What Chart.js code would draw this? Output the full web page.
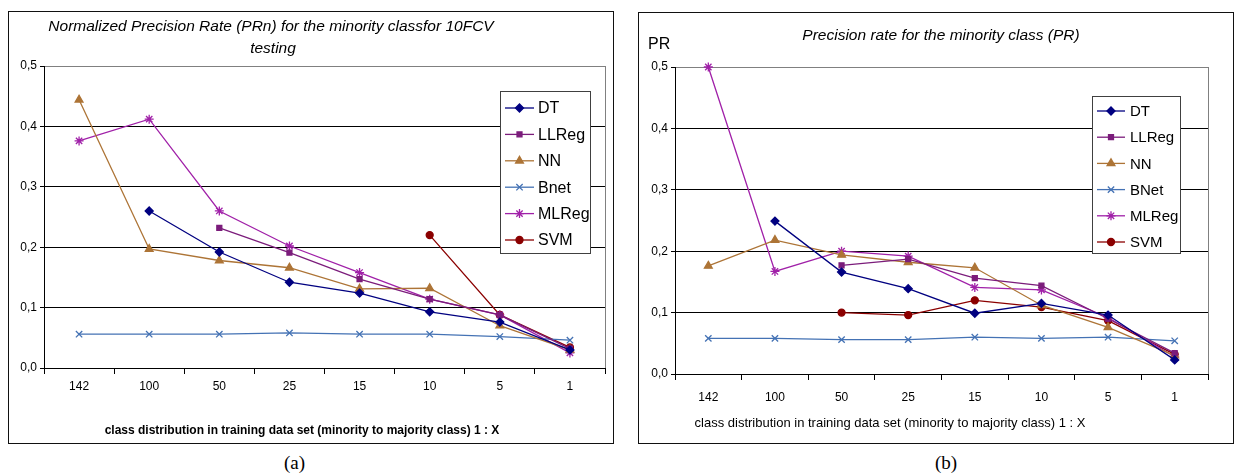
<!DOCTYPE html>
<html>
<head>
<meta charset="utf-8">
<script src="https://cdn.jsdelivr.net/npm/chart.js@4.4.1/dist/chart.umd.min.js"></script>
<style>
    body { margin: 0; background: #fff; width: 1235px; height: 475px; position: relative; overflow: hidden; }
    .frame { position: absolute; border: 1px solid #111; background: #fff; }
    .frame canvas { display: block; }
    .cap { position: absolute; top: 452px; font-family: "Liberation Serif", serif; font-size: 19px; color: #000; }
</style>
</head>
<body>
<div class="frame" id="frameA" style="left:8px; top:11px; width:604px; height:431px;"><canvas id="chartA" width="604" height="431"></canvas></div>
<div class="frame" id="frameB" style="left:638px; top:12px; width:594px; height:430px;"><canvas id="chartB" width="594" height="430"></canvas></div>
<div class="cap" style="left:284px;">(a)</div>
<div class="cap" style="left:935px;">(b)</div>
<script>
const categories = ['142', '100', '50', '25', '15', '10', '5', '1'];

// (a) normalized precision rate, PRn
const dtA = [null, 0.260, 0.192, 0.142, 0.124, 0.093, 0.076, 0.030];
const llregA = [null, null, 0.232, 0.191, 0.147, 0.114, 0.088, 0.032];
const nnA = [0.444, 0.197, 0.178, 0.166, 0.131, 0.132, 0.070, 0.030];
const bnetA = [0.056, 0.056, 0.056, 0.058, 0.056, 0.056, 0.052, 0.046];
const mlregA = [0.376, 0.412, 0.260, 0.202, 0.158, 0.114, 0.088, 0.025];
const svmA = [null, null, null, null, null, 0.220, 0.088, 0.034];

// (b) precision rate, PR
const dtB = [null, 0.249, 0.166, 0.139, 0.099, 0.115, 0.096, 0.023];
const llregB = [null, null, 0.177, 0.187, 0.156, 0.144, 0.090, 0.034];
const nnB = [0.176, 0.218, 0.194, 0.182, 0.173, 0.112, 0.076, 0.030];
const bnetB = [0.058, 0.058, 0.056, 0.056, 0.060, 0.058, 0.060, 0.054];
const mlregB = [0.500, 0.167, 0.200, 0.192, 0.141, 0.137, 0.092, 0.028];
const svmB = [null, null, 0.100, 0.096, 0.120, 0.109, 0.087, 0.032];

const yTicks = [0, 0.1, 0.2, 0.3, 0.4, 0.5];

const styles = [
    { color: '#000080', point: 'rectRot', radius: 4 },
    { color: '#7b1c7b', point: 'rect', radius: 3.5 },
    { color: '#ad7436', point: 'triangle', radius: 4.5 },
    { color: '#4472b4', point: 'crossRot', radius: 4.5 },
    { color: '#a020a8', point: 'star', radius: 4.5 },
    { color: '#8b0000', point: 'circle', radius: 3.5 },
];

const FONT = '"Liberation Sans", Arial, sans-serif';

function dataset(label, values, i) {
    let s = styles[i];
    return {
        label: label,
        data: values,
        borderColor: s.color,
        backgroundColor: s.color,
        borderWidth: 1.3,
        pointStyle: s.point,
        pointRadius: s.radius,
        pointBorderWidth: 1.3,
        pointBackgroundColor: s.color,
        pointBorderColor: s.color,
        spanGaps: false,
        tension: 0,
        clip: 8,
    };
}

// extra drawing: gray right border, texts and the boxed legend
const decor = {
    id: 'decor',
    beforeDatasetsDraw(chart) {
        let a = chart.chartArea;
        let ctx = chart.ctx;
        ctx.save();
        ctx.strokeStyle = '#808080';
        ctx.lineWidth = 1;
        ctx.beginPath();
        let x = Math.round(a.right) + 0.5;
        ctx.moveTo(x, a.top);
        ctx.lineTo(x, a.bottom);
        ctx.stroke();
        ctx.restore();
    },
    afterDatasetsDraw(chart, args, opts) {
        let ctx = chart.ctx;
        ctx.save();
        ctx.fillStyle = '#000';
        ctx.textBaseline = 'middle';
        ctx.textAlign = 'center';
        opts.texts.forEach(t => {
            ctx.font = t.font;
            ctx.textAlign = t.align || 'center';
            ctx.fillText(t.text, t.x, t.y);
        });

        let lg = opts.legend;
        ctx.fillStyle = '#fff';
        ctx.fillRect(lg.x, lg.y, lg.w, lg.h);
        ctx.strokeStyle = '#404040';
        ctx.lineWidth = 1;
        ctx.strokeRect(lg.x + 0.5, lg.y + 0.5, lg.w, lg.h);

        ctx.font = lg.font;
        ctx.textAlign = 'left';
        chart.data.datasets.forEach((ds, i) => {
            let y = lg.row0 + i * lg.step;
            ctx.strokeStyle = ds.borderColor;
            ctx.fillStyle = ds.borderColor;
            ctx.lineWidth = 1.3;
            ctx.beginPath();
            ctx.moveTo(lg.x + lg.line0, y);
            ctx.lineTo(lg.x + lg.line1, y);
            ctx.stroke();
            Chart.helpers.drawPoint(ctx, {
                pointStyle: ds.pointStyle,
                radius: ds.pointRadius,
                borderWidth: 1.3,
                rotation: 0,
            }, lg.x + (lg.line0 + lg.line1) / 2, y);
            ctx.fillStyle = '#000';
            ctx.fillText(ds.label, lg.x + lg.text0, y + 1);
        });
        ctx.restore();
    },
};

function makeChart(id, names, series, lay, texts, legend) {
    new Chart(document.getElementById(id), {
        type: 'line',
        data: {
            labels: categories,
            datasets: series.map((v, i) => dataset(names[i], v, i)),
        },
        options: {
            responsive: false,
            animation: false,
            layout: { padding: lay.padding },
            plugins: {
                legend: { display: false },
                tooltip: { enabled: false },
                decor: { texts: texts, legend: legend },
            },
            scales: {
                x: {
                    offset: true,
                    afterFit: (s) => { s.height = 30; },
                    grid: {
                        display: true,
                        offset: true,
                        drawOnChartArea: false,
                        drawTicks: true,
                        tickLength: 6,
                        color: '#000',
                    },
                    border: { display: true, color: '#000', width: 1 },
                    ticks: {
                        color: '#000',
                        padding: lay.xPad,
                        font: { family: FONT, size: 12 },
                        maxRotation: 0,
                    },
                },
                y: {
                    min: 0,
                    max: 0.5,
                    afterFit: (s) => { s.width = 30; },
                    afterBuildTicks: (s) => { s.ticks = yTicks.map(v => ({ value: v })); },
                    grid: {
                        color: (c) => (c.tick && c.tick.value > 0.45 ? '#808080' : '#000'),
                        tickColor: '#000',
                        tickLength: 4,
                        lineWidth: 1,
                    },
                    border: { display: true, color: '#000', width: 1 },
                    ticks: {
                        color: '#000',
                        padding: 3,
                        font: { family: FONT, size: 12 },
                        callback: (v) => v.toFixed(1).replace('.', ','),
                    },
                },
            },
        },
        plugins: [decor],
    });
}

makeChart('chartA',
    ['DT', 'LLReg', 'NN', 'Bnet', 'MLReg', 'SVM'],
    [dtA, llregA, nnA, bnetA, mlregA, svmA],
    { padding: { left: 5, right: 8, top: 54, bottom: 45 }, xPad: 5 },
    [
        { text: 'Normalized Precision Rate (PRn) for the minority classfor 10FCV', x: 262, y: 15, font: 'italic 15.5px ' + FONT },
        { text: 'testing', x: 264, y: 37, font: 'italic 15.5px ' + FONT },
        { text: 'class distribution in training data set (minority to majority class) 1 : X', x: 293, y: 419, font: 'bold 12px ' + FONT },
    ],
    { x: 491, y: 79, w: 90, h: 162, row0: 96, step: 26.4, line0: 5, line1: 34, text0: 38, font: '16px ' + FONT }
);

makeChart('chartB',
    ['DT', 'LLReg', 'NN', 'BNet', 'MLReg', 'SVM'],
    [dtB, llregB, nnB, bnetB, mlregB, svmB],
    { padding: { left: 6, right: 25, top: 54, bottom: 39 }, xPad: 10 },
    [
        { text: 'Precision rate for the minority class (PR)', x: 302, y: 23, font: 'italic 15.5px ' + FONT },
        { text: 'PR', x: 9, y: 32, font: '16px ' + FONT, align: 'left' },
        { text: 'class distribution in training data set (minority to majority class) 1 : X', x: 251, y: 410, font: '13px ' + FONT },
    ],
    { x: 453, y: 83, w: 88, h: 157, row0: 98, step: 26.2, line0: 5, line1: 33, text0: 38, font: '15px ' + FONT }
);
</script>
</body>
</html>
